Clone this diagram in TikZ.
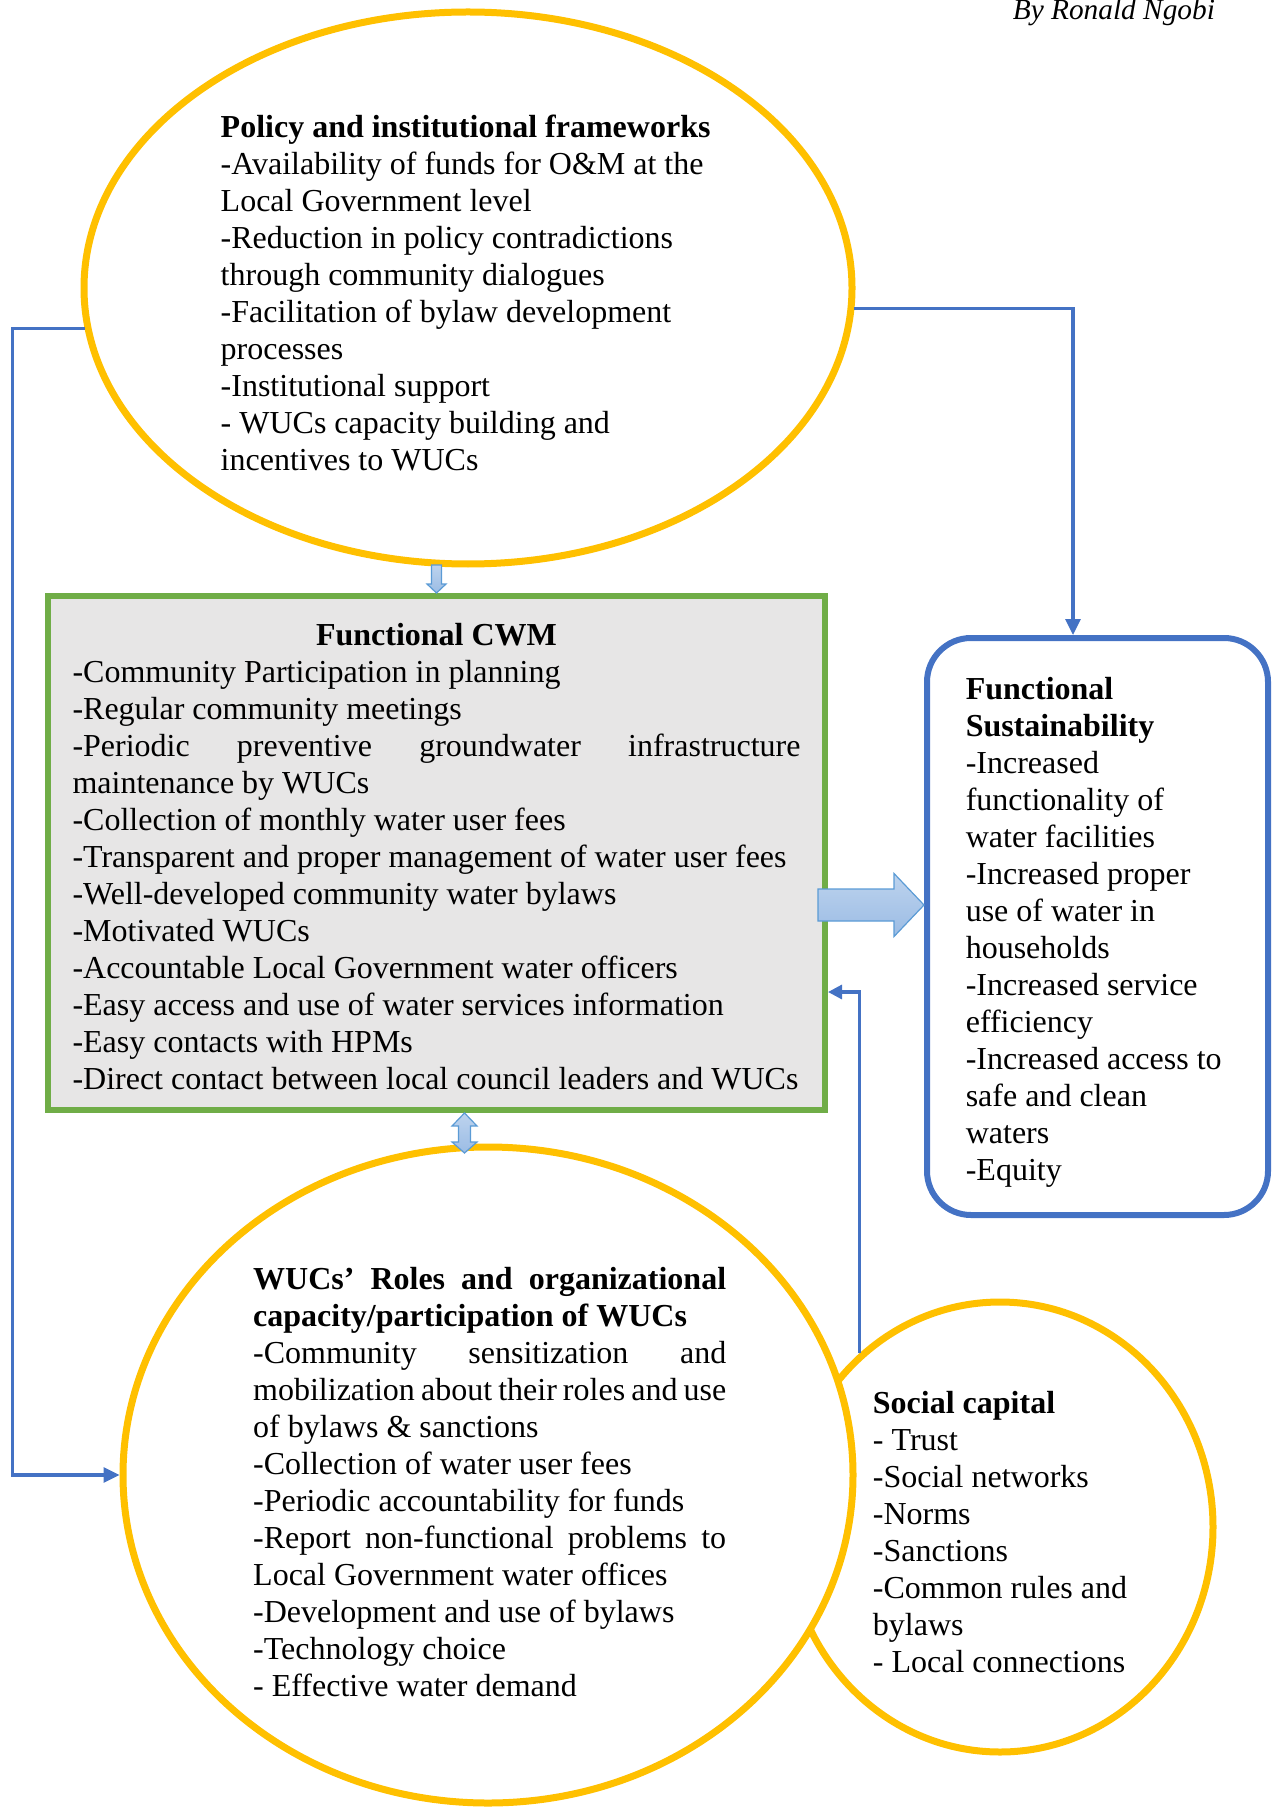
\documentclass[tikz,border=0pt]{standalone}
\usepackage{fontspec}
\setmainfont{Liberation Serif}
\usetikzlibrary{arrows.meta, positioning, calc, shapes.geometric}
\setlength{\parindent}{0pt}

\definecolor{gold}{HTML}{FFC000}
\definecolor{leaf}{HTML}{70AD47}
\definecolor{paper}{HTML}{E7E6E6}
\definecolor{linkblue}{HTML}{4472C4}
\definecolor{arrowedge}{HTML}{5B9BD5}
\definecolor{arrowtop}{HTML}{BDD3EE}
\definecolor{arrowbot}{HTML}{9BBCE4}

\tikzset{
  bodytext/.style={font=\fontsize{16}{18.5}\selectfont, align=left, inner sep=0pt}
}
\tikzset{
  goldoval/.style={ellipse, draw=gold, line width=3.5pt, fill=white, inner sep=0pt},
  cwmbox/.style={rectangle, draw=leaf, line width=3pt, fill=paper, inner sep=0pt},
  sustbox/.style={rectangle, rounded corners=22pt, draw=linkblue, line width=3pt, inner sep=0pt},
  link/.style={draw=linkblue, line width=1.6pt, -{Triangle[length=8pt,width=7.5pt]}},
  fatarrow/.style={draw=arrowedge, line width=0.6pt, top color=arrowtop, bottom color=arrowbot}
}
% one line spread over a given width
\newcommand{\jline}[2]{\makebox[#1][s]{#2}}

\begin{document}
\begin{tikzpicture}[x=0.5pt, y=-0.5pt]
  \useasboundingbox (0,0) rectangle (1271,1807);

  \node[font=\fontsize{14.67}{17}\selectfont\itshape, anchor=base east] (byline) at (1222,20) {By Ronald Ngobi};

  % shapes
  \node[goldoval, minimum width=384pt, minimum height=276pt] (policy) at (468,288) {};
  \node[cwmbox, minimum width=388.5pt, minimum height=257pt] (cwm) at (436.5,853) {};
  \node[sustbox, minimum width=170.5pt, minimum height=288.5pt] (sust) at (1097.5,926.5) {};
  \node[goldoval, fill=none, minimum width=213pt, minimum height=225pt] (social) at (1000,1527) {};
  \node[goldoval, minimum width=365pt, minimum height=328pt] (wucs) at (488,1475) {};

  % texts
  \node[bodytext, xshift=-1.2pt, yshift=-2.3pt] (policytext) at (policy.center) {%
    \textbf{Policy and institutional frameworks}\\
    -Availability of funds for O\&M at the\\
    Local Government level\\
    -Reduction in policy contradictions\\
    through community dialogues\\
    -Facilitation of bylaw development\\
    processes\\
    -Institutional support\\
    - WUCs capacity building and\\
    incentives to WUCs};

  \node[bodytext, yshift=-1.7pt] (cwmtext) at (cwm.center) {%
    \makebox[364pt]{\textbf{Functional CWM}}\\
    -Community Participation in planning\\
    -Regular community meetings\\
    \jline{364pt}{-Periodic preventive groundwater infrastructure}\\
    maintenance by WUCs\\
    -Collection of monthly water user fees\\
    -Transparent and proper management of water user fees\\
    -Well-developed community water bylaws\\
    -Motivated WUCs\\
    -Accountable Local Government water officers\\
    -Easy access and use of water services information\\
    -Easy contacts with HPMs\\
    -Direct contact between local council leaders and WUCs};

  \node[bodytext, xshift=-1.9pt, yshift=-3pt] (susttext) at (sust.center) {%
    \textbf{Functional}\\
    \textbf{Sustainability}\\
    -Increased\\
    functionality of\\
    water facilities\\
    -Increased proper\\
    use of water in\\
    households\\
    -Increased service\\
    efficiency\\
    -Increased access to\\
    safe and clean\\
    waters\\
    -Equity};

  \node[bodytext, yshift=-2.3pt] (socialtext) at (social.center) {%
    \textbf{Social capital}\\
    - Trust\\
    -Social networks\\
    -Norms\\
    -Sanctions\\
    -Common rules and\\
    bylaws\\
    - Local connections};

  \node[bodytext, xshift=0.85pt, yshift=-3.5pt] (wucstext) at (wucs.center) {%
    \jline{236.5pt}{\textbf{WUCs’ Roles and organizational}}\\
    \textbf{capacity/participation of WUCs}\\
    \jline{236.5pt}{-Community sensitization and}\\
    \jline{236.5pt}{mobilization about their roles and use}\\
    of bylaws \& sanctions\\
    -Collection of water user fees\\
    -Periodic accountability for funds\\
    \jline{236.5pt}{-Report non-functional problems to}\\
    Local Government water offices\\
    -Development and use of bylaws\\
    -Technology choice\\
    - Effective water demand};

  % thin connectors
  \draw[link] (policy.186) -- ++(-72,0) |- (wucs.west);
  \draw[link] (policy.357) -| ([xshift=-12.25pt]sust.north);
  \draw[link, -{Triangle[length=7pt,width=7pt]}] (social.129) |- ([yshift=-69.5pt]cwm.east);

  % block arrows
  \draw[fatarrow] (cwm.north) -- ++(-9.5,-9) -- ++(4.5,0) -- ++(0,-19) -- ++(10,0)
    -- ++(0,19) -- ++(4.5,0) -- cycle;
  \draw[fatarrow] ([xshift=14pt]cwm.south) -- ++(12.5,13) -- ++(-6.5,0) -- ++(0,16) -- ++(6.5,0)
    -- ++(-12.5,11) -- ++(-12.5,-11) -- ++(6.5,0) -- ++(0,-16) -- ++(-6.5,0) -- cycle;
  \draw[fatarrow] ([yshift=10.75pt]sust.west) -- ++(-30,-31.5) -- ++(0,15.5) -- ++(-76,0)
    -- ++(0,32) -- ++(76,0) -- ++(0,15.5) -- cycle;
\end{tikzpicture}
\end{document}
